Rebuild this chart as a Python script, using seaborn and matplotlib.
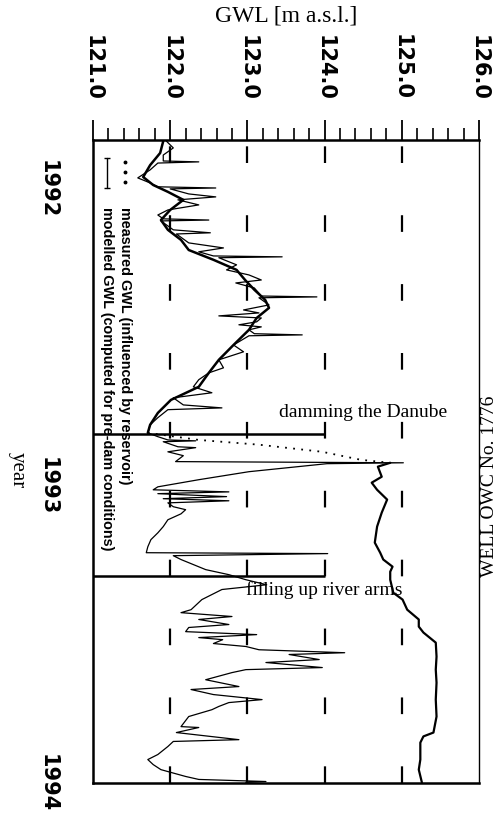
import matplotlib
matplotlib.use("Agg")
import matplotlib.pyplot as plt
import seaborn as sns
from matplotlib.ticker import FixedLocator, MultipleLocator

sns.set_theme(style="white")
plt.rcParams["font.family"] = ["DejaVu Sans"]

# GWL axis and time axis
gwl_ticks = [121.0, 122.0, 123.0, 124.0, 125.0, 126.0]
gwl_grid = [122.0, 123.0, 124.0, 125.0]
year_ticks = [1992, 1993, 1994]
year_labels = ["1992", "1993", "1994"]

# measured GWL (decimal year, m a.s.l.) before damming
meas_pre_t = [1991.837, 1991.877, 1991.918, 1991.958, 1991.985, 1992.008, 1992.035,
              1992.069, 1992.103, 1992.136, 1992.170, 1992.204, 1992.237, 1992.271,
              1992.305, 1992.338, 1992.372, 1992.399, 1992.433, 1992.473, 1992.524,
              1992.574, 1992.618, 1992.665, 1992.709, 1992.753, 1992.793, 1992.820]
meas_pre_v = [121.91, 121.87, 121.74, 121.65, 121.78, 121.97, 122.17,
              122.00, 121.88, 121.97, 122.14, 122.24, 122.56, 122.86,
              122.97, 123.09, 123.23, 123.28, 123.12, 123.02, 122.82,
              122.63, 122.50, 122.37, 122.01, 121.84, 121.74, 121.71]

# sparse readings while the reservoir was being filled
meas_fill_t = [1992.820, 1992.844, 1992.860, 1992.884, 1992.911, 1992.921]
meas_fill_v = [121.71, 122.37, 123.15, 123.97, 124.47, 124.85]

# measured GWL after damming
meas_post_t = [1992.921, 1992.934, 1992.968, 1992.988, 1993.012, 1993.045, 1993.089,
               1993.136, 1993.190, 1993.224, 1993.247, 1993.271, 1993.288, 1993.315,
               1993.359, 1993.382, 1993.416, 1993.449, 1993.473, 1993.493, 1993.527,
               1993.574, 1993.618, 1993.662, 1993.719, 1993.776, 1993.830, 1993.843,
               1993.864, 1993.921, 1993.955, 1993.998]
meas_post_v = [124.85, 124.69, 124.74, 124.61, 124.68, 124.81, 124.74,
               124.68, 124.65, 124.72, 124.76, 124.88, 124.85, 124.85,
               124.89, 125.01, 125.07, 125.22, 125.22, 125.28, 125.44,
               125.45, 125.44, 125.45, 125.44, 125.45, 125.41, 125.28,
               125.24, 125.24, 125.22, 125.26]

# modelled GWL for pre-dam conditions
mod_t = [1991.837, 1991.860, 1991.884, 1991.904, 1991.907, 1991.911, 1991.934, 1991.961,
         1991.978, 1991.991, 1991.995, 1991.998, 1992.015, 1992.025, 1992.035, 1992.052,
         1992.069, 1992.086, 1992.099, 1992.103, 1992.106, 1992.136, 1992.146, 1992.150,
         1992.180, 1992.197, 1992.210, 1992.224, 1992.227, 1992.230, 1992.254, 1992.271,
         1992.288, 1992.305, 1992.315, 1992.332, 1992.359, 1992.362, 1992.365, 1992.389,
         1992.406, 1992.416, 1992.426, 1992.433, 1992.446, 1992.456, 1992.463, 1992.473,
         1992.486, 1992.490, 1992.493, 1992.524, 1992.547, 1992.574, 1992.601, 1992.618,
         1992.641, 1992.665, 1992.685, 1992.702, 1992.726, 1992.736, 1992.742, 1992.769,
         1992.793, 1992.820,
         1992.833, 1992.844, 1992.847, 1992.850, 1992.867, 1992.870, 1992.884, 1992.897,
         1992.917, 1992.921, 1992.924, 1992.951, 1992.978, 1993.002, 1993.012, 1993.019,
         1993.025, 1993.035, 1993.042, 1993.049, 1993.056, 1993.069, 1993.079, 1993.093,
         1993.113, 1993.136, 1993.157, 1993.180, 1993.204, 1993.224, 1993.227, 1993.234,
         1993.247, 1993.264, 1993.281, 1993.298, 1993.315, 1993.332,
         1993.348, 1993.382, 1993.416, 1993.426, 1993.439, 1993.449, 1993.466, 1993.476,
         1993.490, 1993.500, 1993.510, 1993.517, 1993.530, 1993.540, 1993.551, 1993.561,
         1993.567, 1993.584, 1993.594, 1993.611, 1993.618, 1993.628, 1993.652, 1993.675,
         1993.685, 1993.702, 1993.719, 1993.729, 1993.742, 1993.753, 1993.776, 1993.810,
         1993.813, 1993.830, 1993.854, 1993.860, 1993.877, 1993.904, 1993.921, 1993.938,
         1993.955, 1993.978, 1993.988, 1993.995, 1993.998]
mod_v = [121.95, 122.04, 121.91, 121.91, 122.37, 121.84, 121.74, 121.58,
         121.74, 121.84, 122.59, 122.00, 122.24, 122.59, 122.10, 122.37,
         121.97, 121.84, 121.91, 122.50, 121.88, 122.04, 122.52, 122.08,
         122.24, 122.69, 122.37, 122.56, 123.45, 122.63, 122.86, 122.73,
         123.02, 123.18, 122.85, 123.09, 123.18, 123.90, 123.15, 123.28,
         122.95, 123.15, 122.63, 123.18, 123.12, 122.89, 123.18, 123.02,
         123.09, 123.71, 123.02, 122.82, 122.95, 122.63, 122.69, 122.50,
         122.37, 122.30, 122.54, 122.04, 122.17, 122.67, 121.97, 121.84,
         121.74, 121.71,
         121.84, 121.97, 122.33, 121.91, 122.10, 122.33, 121.97, 122.17,
         122.07, 125.02, 124.03, 123.02, 122.37, 121.84, 121.78, 122.76,
         121.84, 122.73, 121.91, 122.76, 121.97, 122.04, 122.20, 122.14,
         121.97, 121.91, 121.84, 121.75, 121.71, 121.69, 124.04, 122.04,
         122.14, 122.30, 122.46, 122.76, 122.98, 123.25,
         122.67, 122.41, 122.27, 122.14, 122.80, 122.37, 122.76, 122.24,
         122.20, 123.12, 122.37, 122.68, 122.56, 122.98, 123.15, 124.26,
         123.54, 123.93, 123.24, 123.97, 122.98, 122.80, 122.46, 122.89,
         122.27, 122.56, 123.19, 122.76, 122.63, 122.54, 122.24, 122.14,
         122.37, 122.08, 122.89, 122.04, 121.97, 121.84, 121.71, 121.78,
         121.88, 122.20, 122.37, 123.24, 122.98]

# events marked on the time axis
event_t = [1992.823, 1993.302]
event_gwl = [124.0, 124.0]
event_text = ["damming the Danube", "filling up river arms"]
event_text_gwl = [123.41, 122.98]
event_text_t = [1992.753, 1993.350]

legend_text = ["modelled GWL (computed for pre-dam conditions)",
               "measured GWL (influenced by reservoir)"]
well_title = "WELL OWC No. 1776"

fig = plt.figure(figsize=(5.01, 8.24), dpi=100)
ax = fig.add_axes([93 / 501, 1 - 783 / 824, (479 - 93) / 501, (783 - 140) / 824])
ax.set_facecolor("white")

ink = "black"

# dashed reference lines at whole metres
for g in gwl_grid:
    ax.axvline(g, color=ink, lw=1.6, linestyle=(0, (7.5, 23.5)), zorder=1)

# modelled series
sns.lineplot(x=mod_v, y=mod_t, orient="y", sort=False, estimator=None,
             color=ink, lw=0.9, ax=ax, zorder=3)
# measured series
sns.lineplot(x=meas_pre_v, y=meas_pre_t, orient="y", sort=False, estimator=None,
             color=ink, lw=1.8, ax=ax, zorder=4)
sns.lineplot(x=meas_post_v, y=meas_post_t, orient="y", sort=False, estimator=None,
             color=ink, lw=1.6, ax=ax, zorder=4)
ax.plot(meas_fill_v, meas_fill_t, color=ink, lw=1.3, linestyle=(0, (1, 3.5)), zorder=4)

# event markers
for t, g in zip(event_t, event_gwl):
    ax.plot([121.0, g], [t, t], color=ink, lw=1.8, solid_capstyle="butt", zorder=5)
for s, g, t in zip(event_text, event_text_gwl, event_text_t):
    ax.text(g, t, s, family="Liberation Serif", fontsize=14, color=ink,
            ha="left", va="center", zorder=6)

# axes, ticks and limits
ax.set_xlim(121.0, 126.0)
ax.set_ylim(1994.0, 1991.8333)
ax.xaxis.tick_top()
ax.xaxis.set_label_position("top")
ax.xaxis.set_major_locator(FixedLocator(gwl_ticks))
ax.xaxis.set_minor_locator(MultipleLocator(0.2))
ax.set_xticklabels([f"{v:.1f}" for v in gwl_ticks])
ax.yaxis.set_major_locator(FixedLocator(year_ticks))
ax.yaxis.set_minor_locator(MultipleLocator(1 / 12))
ax.set_yticklabels(year_labels)

ax.tick_params(axis="x", which="major", direction="out", length=14.5, width=1.3,
               pad=14, labelsize=15, rotation=-90, colors=ink)
ax.tick_params(axis="x", which="minor", direction="out", length=9, width=1.2, colors=ink)
ax.tick_params(axis="y", which="major", direction="out", length=14.5, width=1.8,
               pad=11, labelsize=15, rotation=-90, colors=ink)
ax.tick_params(axis="y", which="minor", direction="out", length=8, width=1.6, colors=ink)
for lab in ax.get_xticklabels() + ax.get_yticklabels():
    lab.set_fontweight("bold")
for lab in ax.get_yticklabels():
    lab.set_verticalalignment("center")

for side, w in [("top", 1.8), ("left", 1.8), ("bottom", 1.8), ("right", 1.0)]:
    ax.spines[side].set_visible(True)
    ax.spines[side].set_color(ink)
    ax.spines[side].set_linewidth(w)

ax.set_xlabel("GWL [m a.s.l.]", family="Liberation Serif", fontsize=17, color=ink)
ax.xaxis.set_label_coords(0.5, 1 + (140 - 22) / 643)
ax.set_ylabel("year", family="Liberation Serif", fontsize=15, rotation=-90,
              va="center", ha="center", color=ink)
ax.yaxis.set_label_coords(-(93 - 17) / 386, 1 - (470 - 140) / 643)

# legend drawn along the time axis
leg_x = [(107 - 93) / 386, (125 - 93) / 386]
ax.plot([leg_x[0], leg_x[0]], [1 - (158 - 140) / 643, 1 - (188 - 140) / 643],
        transform=ax.transAxes, color=ink, lw=1.0, marker="_", ms=5, mew=1.0, zorder=6)
ax.plot([leg_x[1]] * 3, [1 - (162 - 140) / 643, 1 - (172 - 140) / 643, 1 - (182 - 140) / 643],
        transform=ax.transAxes, color=ink, lw=0, marker="o", ms=1.8, zorder=6)
for lx, s in zip(leg_x, legend_text):
    ax.text(lx, 1 - (207 - 140) / 643, s, transform=ax.transAxes, rotation=-90,
            ha="center", va="top", fontsize=10.4, fontweight="bold",
            family="Liberation Sans", color=ink, zorder=6)

# well name along the right margin, reading upwards
fig.text(489.5 / 501, 1 - 486 / 824, well_title, rotation=90, ha="center", va="center",
         family="Liberation Serif", fontsize=14, color=ink)

fig.savefig("out.png", dpi=100, facecolor="white")
